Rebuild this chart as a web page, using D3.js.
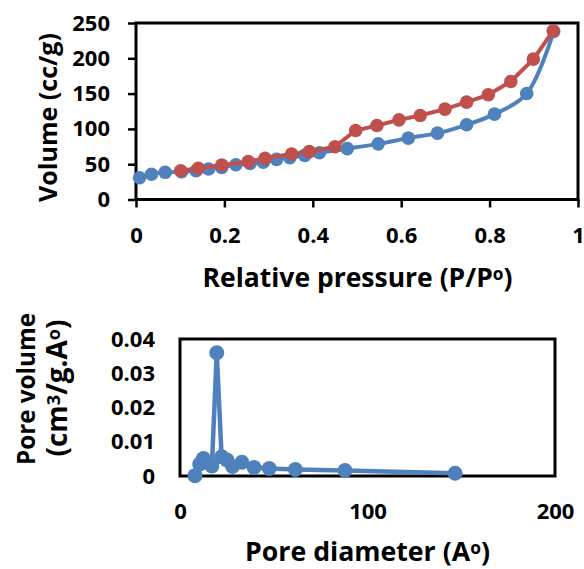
<!DOCTYPE html>
<html><head><meta charset="utf-8">
<script src="https://cdn.jsdelivr.net/npm/d3@7"></script>
<style>
html,body{margin:0;padding:0;background:#fff;}
svg{display:block;font-family:"Open Sans",Lato,sans-serif;font-weight:700;}
</style></head>
<body>
<svg id="chart" width="584" height="569"></svg>
<script>
// ---- Isotherm data (top chart) ----
const adsP = [0.008,0.035,0.066,0.103,0.136,0.164,0.194,0.226,0.258,0.288,0.318,0.348,0.382,0.415,0.478,0.548,0.616,0.682,0.748,0.811,0.884,0.945];
const adsV = [30.9,35.7,38.5,39.4,40.8,43.2,45.5,49.3,51.2,52.7,56.9,59.2,62.5,66.3,72.0,78.8,86.9,94.0,105.8,120.9,150.1,238.0];
const desP = [0.101,0.141,0.194,0.254,0.292,0.352,0.392,0.450,0.497,0.545,0.595,0.643,0.699,0.748,0.797,0.848,0.899,0.944];
const desV = [40.8,44.2,48.9,53.6,58.3,64.4,67.8,74.8,97.7,104.8,112.8,119.0,128.0,137.9,148.3,167.1,198.8,239.0];
const topXTicks = [0,0.2,0.4,0.6,0.8,1];
const topYTicks = [0,50,100,150,200,250];

// ---- Pore size distribution (bottom chart) ----
const poreD = [8,10.5,12.5,17,19.6,22.2,25,28,33,39.5,47.6,61.5,88,146.7];
const poreV = [0.0001,0.0035,0.0051,0.0029,0.036,0.0056,0.0047,0.0028,0.0040,0.0025,0.0022,0.0019,0.0016,0.0008];
const botXTicks = [0,100,200];
const botYTicks = [0,0.01,0.02,0.03,0.04];

const BLUE = "#4F81BD", RED = "#C0504D";
const FONT = "'Open Sans', Lato, sans-serif";
const svg = d3.select("#chart");

// scale a title's font so it spans the reference width
function fitSize(sel, target){
  const w = sel.node().getComputedTextLength();
  const fs = parseFloat(sel.style("font-size"));
  sel.style("font-size", (fs*target/w) + "px");
}
// text with superscript parts: parts = [[text, isSup], ...]
function richText(g, parts){
  const t = g.append("text").attr("text-anchor","middle").style("font-size","24px");
  let up = false;
  parts.forEach(([s,sup])=>{
    const ts = t.append("tspan").text(s);
    if(sup && !up){ ts.attr("dy","-0.38em").style("font-size","0.65em"); up = true; }
    else if(!sup && up){ ts.attr("dy","0.247em"); up = false; }
  });
  return t;
}

// ===== Top chart =====
const x1 = d3.scaleLinear().domain([0,1]).range([136,578]);
const y1 = d3.scaleLinear().domain([0,250]).range([199.5,23]);
const g1 = svg.append("g");

const ax1 = g1.append("g").attr("transform","translate(0,199.5)")
  .call(d3.axisBottom(x1).tickValues(topXTicks).tickFormat(d=>d3.format("")(d)).tickSize(8).tickPadding(20));
const ay1 = g1.append("g").attr("transform","translate(136,0)")
  .call(d3.axisLeft(y1).tickValues(topYTicks).tickSize(8).tickPadding(18));
[ax1,ay1].forEach(a=>{
  a.select(".domain").remove();
  a.selectAll(".tick line").attr("stroke","#000").attr("stroke-width",2.5);
  a.selectAll(".tick text").attr("fill","#000").style("font-size","22px").style("font-family",FONT).style("font-weight","700");
});
g1.append("rect").attr("x",x1(0)).attr("y",y1(250)).attr("width",x1(1)-x1(0)).attr("height",y1(0)-y1(250))
  .attr("fill","none").attr("stroke","#000").attr("stroke-width",3);

const ads = adsP.map((p,i)=>[p,adsV[i]]);
const des = desP.map((p,i)=>[p,desV[i]]);
g1.append("path").datum(ads).attr("fill","none").attr("stroke",BLUE).attr("stroke-width",4)
  .attr("d",d3.line().x(d=>x1(d[0])).y(d=>y1(d[1])).curve(d3.curveCatmullRom.alpha(0.5)));
g1.selectAll("circle.ads").data(ads).join("circle").attr("class","ads")
  .attr("cx",d=>x1(d[0])).attr("cy",d=>y1(d[1])).attr("r",6.8).attr("fill",BLUE);
g1.append("path").datum(des).attr("fill","none").attr("stroke",RED).attr("stroke-width",4)
  .attr("d",d3.line().x(d=>x1(d[0])).y(d=>y1(d[1])));
g1.selectAll("circle.des").data(des).join("circle").attr("class","des")
  .attr("cx",d=>x1(d[0])).attr("cy",d=>y1(d[1])).attr("r",6.8).attr("fill",RED);

// titles
const t1 = richText(g1, [["Relative pressure (P/P",0],["o",1],[")",0]]).attr("x",357.5).attr("y",287);
fitSize(t1, 310);
const t0 = g1.append("text").attr("transform","translate(57,117.5) rotate(-90)").attr("text-anchor","middle")
  .style("font-size","24px").text("Volume (cc/g)");
fitSize(t0, 169);

// ===== Bottom chart =====
const x2 = d3.scaleLinear().domain([0,200]).range([180,555]);
const y2 = d3.scaleLinear().domain([0,0.04]).range([476,339]);
const g2 = svg.append("g");
const ax2 = g2.append("g").attr("transform","translate(0,476)")
  .call(d3.axisBottom(x2).tickValues(botXTicks).tickSize(0).tickPadding(27));
const ay2 = g2.append("g").attr("transform","translate(180,0)")
  .call(d3.axisLeft(y2).tickValues(botYTicks).tickFormat(d=>d===0?"0":d3.format(".2f")(d)).tickSize(0).tickPadding(25));
[ax2,ay2].forEach(a=>{
  a.select(".domain").remove();
  a.selectAll(".tick text").attr("fill","#000").style("font-size","22px").style("font-family",FONT).style("font-weight","700");
});
g2.append("rect").attr("x",x2(0)).attr("y",y2(0.04)).attr("width",x2(200)-x2(0)).attr("height",y2(0)-y2(0.04))
  .attr("fill","none").attr("stroke","#000").attr("stroke-width",3);

const pore = poreD.map((d,i)=>[d,poreV[i]]);
g2.append("path").datum(pore).attr("fill","none").attr("stroke",BLUE).attr("stroke-width",4.5)
  .attr("d",d3.line().x(d=>x2(d[0])).y(d=>y2(d[1])));
g2.selectAll("circle").data(pore).join("circle")
  .attr("cx",d=>x2(d[0])).attr("cy",d=>y2(d[1])).attr("r",7.5).attr("fill",BLUE);

const t2 = richText(g2, [["Pore diameter (A",0],["o",1],[")",0]]).attr("x",367.5).attr("y",561);
fitSize(t2, 245);

const t4 = g2.append("text").attr("transform","translate(35,389) rotate(-90)").attr("text-anchor","middle")
  .style("font-size","24px").text("Pore volume");
fitSize(t4, 152);
const t3 = richText(g2, [["(cm",0],["3",1],["/g.A",0],["o",1],[")",0]]).attr("transform","translate(67,388) rotate(-90)");
fitSize(t3, 137);
</script>
</body></html>
